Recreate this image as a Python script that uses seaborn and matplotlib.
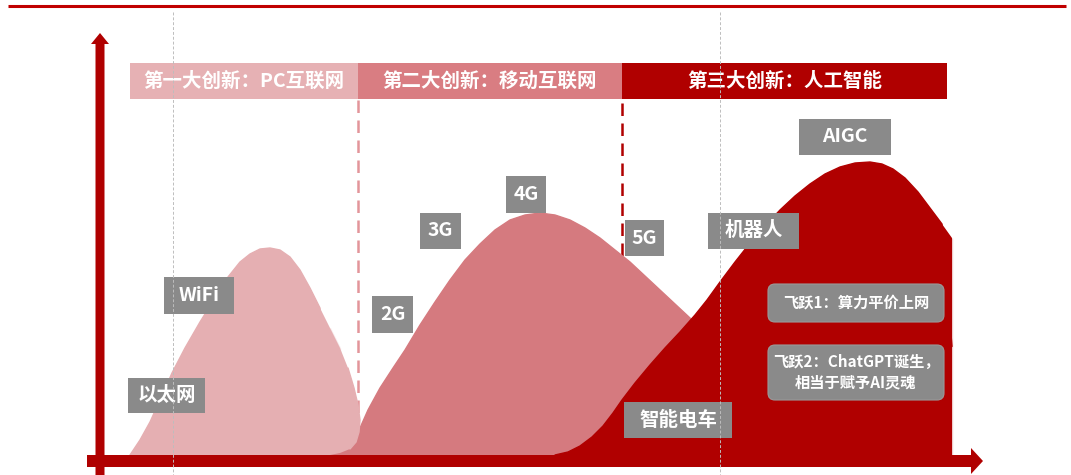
import matplotlib
matplotlib.use("Agg")
import matplotlib.pyplot as plt
from matplotlib.patches import Rectangle, FancyBboxPatch
import seaborn as sns
import pandas as pd

sns.set_theme(style="white")
plt.rcParams['font.family'] = ['Noto Sans CJK SC', 'DejaVu Sans']

# ---------------- data (pixel-space reading of the picture, y measured from top) -------------
wave1_x = [130, 140, 150, 160, 172, 185, 200, 215, 228, 240, 250, 260, 270, 280, 290, 300, 310, 320, 330, 340,
           348, 354, 358, 360, 359, 356, 350, 340, 330]
wave1_y = [455, 440, 422, 400, 373, 348, 322, 298, 277, 262, 254, 249, 248, 250, 257, 270, 288, 308, 328, 348,
           368, 388, 405, 420, 432, 442, 449, 453, 455]

wave2_x = [325, 340, 352, 360, 368, 380, 393, 405, 420, 435, 450, 465, 480, 495, 510, 525, 540, 555, 570, 585,
           600, 615, 630, 645, 660, 675, 690, 710, 740, 780, 820, 860]
wave2_y = [455, 451, 443, 428, 410, 388, 368, 350, 325, 302, 280, 260, 244, 230, 220, 215, 213, 215, 220, 228,
           238, 250, 262, 276, 290, 304, 318, 336, 362, 392, 425, 455]

wave3_x = [555, 568, 580, 592, 603, 613, 622, 635, 650, 665, 680, 695, 707, 720, 735, 750, 765, 780, 795, 810,
           825, 840, 855, 870, 882, 893, 905, 918, 930, 942, 952, 952]
wave3_y = [455, 452, 446, 437, 426, 413, 400, 383, 365, 348, 332, 315, 300, 282, 262, 243, 226, 210, 196, 184,
           174, 167, 163, 162, 164, 169, 178, 192, 208, 224, 238, 455]

era_labels = ["第一大创新：PC互联网", "第二大创新：移动互联网", "第三大创新：人工智能"]
era_x0 = [130, 358, 622]
era_x1 = [358, 622, 947]
era_colors = ["#e6b1b4", "#d97d82", "#b00000"]

tech_labels = ["以太网", "WiFi", "2G", "3G", "4G", "5G", "机器人", "AIGC", "智能电车"]
tech_x0 = [128, 164, 372, 420, 506, 625, 708, 799, 624]
tech_x1 = [205, 234, 413, 461, 546, 664, 799, 891, 732]
tech_y0 = [378, 277, 296, 213, 176, 220, 213, 119, 402]
tech_y1 = [413, 314, 333, 249, 213, 256, 249, 155, 438]

leap_labels = ["飞跃1：算力平价上网", "飞跃2：ChatGPT诞生，\n相当于赋予AI灵魂"]
leap_x0 = [768, 768]
leap_x1 = [944, 944]
leap_y0 = [284, 345]
leap_y1 = [322, 400]

guide_x = [173, 720]

# ---------------- drawing ----------------
W, H = 1071, 475
fig = plt.figure(figsize=(W / 100, H / 100), dpi=100)
ax = fig.add_axes([0, 0, 1, 1])

# top rule
ax.plot([8, 1066], [6, 6], color="#c00000", lw=2.2, solid_capstyle="butt", zorder=1)

# dashed era separators
ax.plot([358, 358], [100, 455], color="#e3959a", lw=1.8, ls=(0, (5, 3)), zorder=2)
ax.plot([622, 622], [63, 440], color="#b00000", lw=1.8, ls=(0, (5, 3)), zorder=2)

# waves
w1 = pd.DataFrame({"x": wave1_x, "y": wave1_y})
w2 = pd.DataFrame({"x": wave2_x, "y": wave2_y})
w3 = pd.DataFrame({"x": wave3_x, "y": wave3_y})
c1, c2, c3 = "#e5afb2", "#d57a7f", "#b00000"
ax.fill(w2["x"], w2["y"], color=c2, lw=0, zorder=3)
sns.lineplot(data=w2, x="x", y="y", sort=False, color=c2, lw=1, ax=ax, zorder=3)
ax.fill(w1["x"], w1["y"], color=c1, lw=0, zorder=4)
sns.lineplot(data=w1, x="x", y="y", sort=False, color=c1, lw=1, ax=ax, zorder=4)
ax.fill(w3["x"], w3["y"], color=c3, lw=0, zorder=5)
sns.lineplot(data=w3, x="x", y="y", sort=False, color=c3, lw=1, ax=ax, zorder=5)
ax.set_xlim(0, W)
ax.set_ylim(H, 0)
ax.set_xlabel("")
ax.set_ylabel("")
ax.axis("off")

# era header bands
for lab, x0, x1, col in zip(era_labels, era_x0, era_x1, era_colors):
    ax.add_patch(Rectangle((x0, 63), x1 - x0, 36, facecolor=col, edgecolor="none", zorder=6))
    ax.text((x0 + x1) / 2, 81.5, lab, color="white", fontsize=14, fontweight="bold",
            ha="center", va="center", zorder=7)

# technology labels
for lab, x0, x1, y0, y1 in zip(tech_labels, tech_x0, tech_x1, tech_y0, tech_y1):
    ax.add_patch(Rectangle((x0, y0), x1 - x0, y1 - y0, facecolor="#8a8a8a", edgecolor="none", zorder=8))
    ax.text((x0 + x1) / 2, (y0 + y1) / 2, lab, color="white", fontsize=14, fontweight="bold",
            ha="center", va="center", zorder=9)

# leap boxes
for lab, x0, x1, y0, y1 in zip(leap_labels, leap_x0, leap_x1, leap_y0, leap_y1):
    ax.add_patch(FancyBboxPatch((x0, y0), x1 - x0, y1 - y0,
                                boxstyle="round,pad=0,rounding_size=7",
                                facecolor="#8a8a8a", edgecolor="#9a9a9a", lw=0.8, zorder=8))
    ax.text((x0 + x1) / 2, (y0 + y1) / 2, lab, color="white", fontsize=11, fontweight="bold",
            ha="center", va="center", linespacing=1.35, zorder=9)

# axes arrows
ax.arrow(100, 475, 0, -442, width=9, head_width=18, head_length=11,
         length_includes_head=True, color="#b00000", lw=0, zorder=10)
ax.arrow(87, 461, 896, 0, width=12, head_width=26, head_length=12,
         length_includes_head=True, color="#b00000", lw=0, zorder=10)

# thin dotted guides
for gx in guide_x:
    ax.plot([gx, gx], [12, 475], color="#bdbdbd", lw=0.7, ls=(0, (3, 2)), zorder=11)

fig.savefig("out.png", dpi=100)
